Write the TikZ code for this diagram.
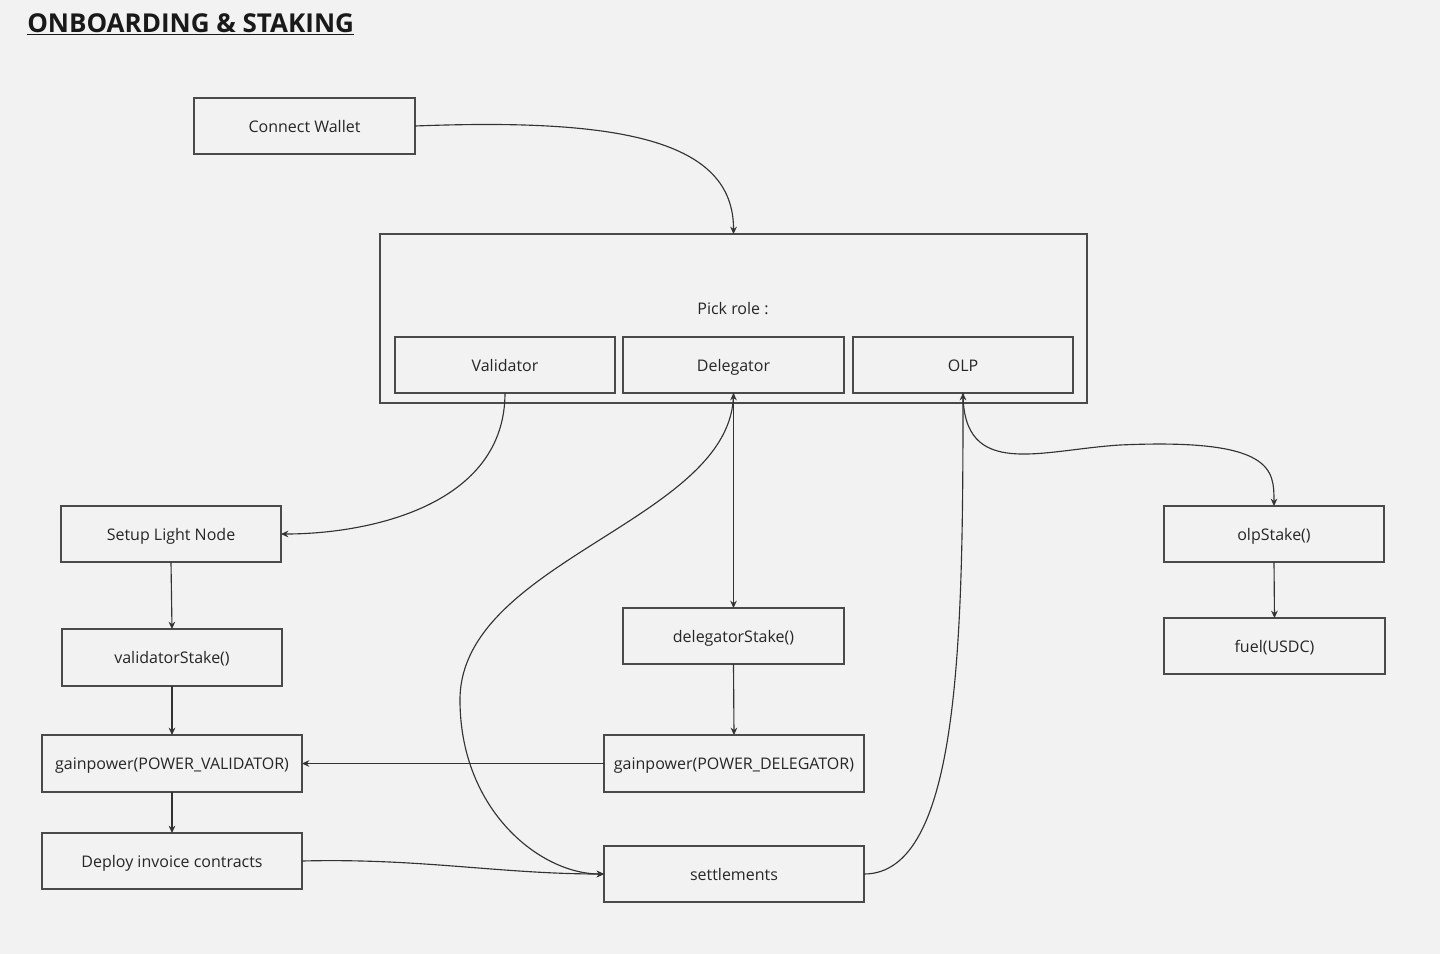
\documentclass[tikz,border=0pt]{standalone}
\usepackage{fontspec}
\setmainfont{Open Sans}
\usetikzlibrary{arrows.meta}
\definecolor{bg}{HTML}{F2F2F2}
\definecolor{ln}{HTML}{333333}
\definecolor{bd}{HTML}{4A4A4A}
\tikzset{
  box/.style={draw=bd, line width=1.1pt, fill=bg, inner sep=0pt, outer sep=0pt, font=\fontsize{12}{14}\selectfont, text=black!85, text height=11pt, text depth=1.6pt},
  arr/.style={draw=ln, line width=0.85pt, -{Stealth[length=5.5pt,width=5pt]}},
  arrb/.style={draw=ln, line width=0.85pt, {Stealth[length=5.5pt,width=5pt]}-{Stealth[length=5.5pt,width=5pt]}},
}
\newcommand{\bx}[6]{\node[box, minimum width={(#4-#2)*0.75pt}, minimum height={(#5-#3)*0.75pt}] (#1) at ({(#2+#4)/2},{(#3+#5)/2}) {#6};}
\begin{document}
\begin{tikzpicture}[x=0.75pt,y=-0.75pt]
\fill[bg] (0,0) rectangle (1440,954);
\useasboundingbox (0,0) rectangle (1440,954);
\node[anchor=base west, inner sep=0pt, font=\fontsize{19.5}{22}\selectfont\bfseries, text=black!90] (title) at (27,32) {\underline{ONBOARDING \& STAKING}};
\bx{cw}{194}{98}{415}{154}{Connect Wallet}
\bx{pick}{380}{234}{1087}{403}{}
\node[font=\fontsize{12}{14}\selectfont, text=black!85, inner sep=0pt, text height=11pt, text depth=1.6pt] (picktxt) at (733,308) {Pick role :};
\bx{val}{395}{337}{615}{393}{Validator}
\bx{del}{623}{337}{844}{393}{Delegator}
\bx{olp}{853}{337}{1073}{393}{OLP}
\bx{sln}{61}{506}{281}{562}{Setup Light Node}
\bx{vs}{62}{629}{282}{686}{validatorStake()}
\bx{gpv}{42}{735}{302}{792}{gainpower(POWER\_VALIDATOR)}
\bx{dic}{42}{833}{302}{889}{Deploy invoice contracts}
\bx{ds}{623}{608}{844}{664}{delegatorStake()}
\bx{gpd}{604}{735}{864}{792}{gainpower(POWER\_DELEGATOR)}
\bx{set}{604}{846}{864}{902}{settlements}
\bx{os}{1164}{506}{1384}{562}{olpStake()}
\bx{fuel}{1164}{618}{1385}{674}{fuel(USDC)}
% connectors
\draw[arr] (cw.east) .. controls (620,118) and (734,140) .. (pick.north -| del.south);
\draw[arr] (val.south) .. controls (505,505) and (370,534) .. (sln.east);
\draw[arrb] (del.south) -- (ds.north);
\draw[arr] (del.south) .. controls (734,520) and (460,560) .. (460,700) .. controls (460,810) and (540,874) .. (set.west);
\draw[arr] (ds.south) -- (gpd.north);
\draw[arr] (gpd.west) -- (gpv.east);
\draw[arr] (sln.south) -- (vs.north);
\draw[arr] (vs.south) -- (gpv.north);
\draw[arr] (gpv.south) -- (dic.north);
\draw[arr] (dic.east) .. controls (420,858) and (500,874) .. (set.west);
\draw[arr] (set.east) .. controls (960,874) and (963,640) .. (olp.south);
\draw[arr] (olp.south) .. controls (963,480) and (1040,450) .. (1120,445) .. controls (1274,438) and (1274,470) .. (os.north);
\draw[arr] (os.south) -- (fuel.north);
\end{tikzpicture}
\end{document}
